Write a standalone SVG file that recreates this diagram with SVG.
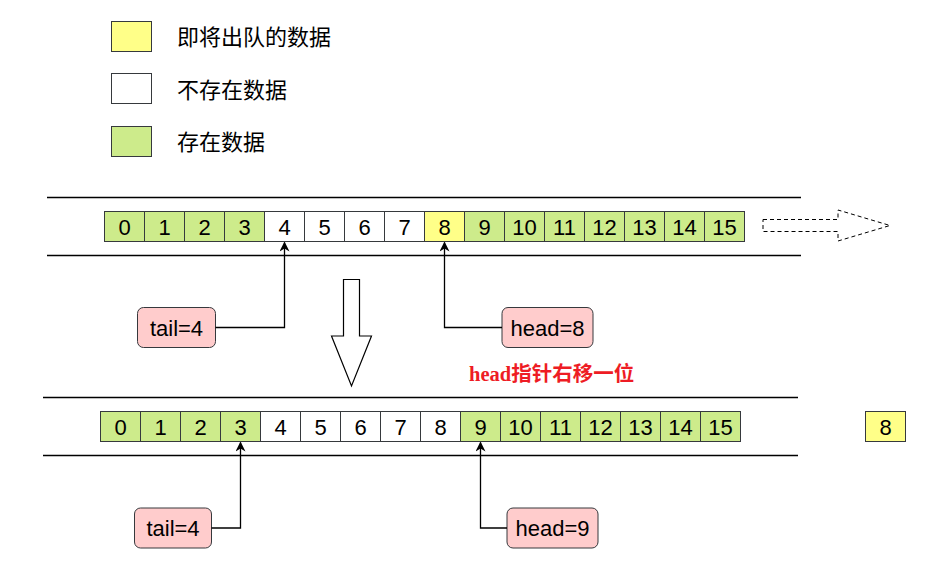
<svg xmlns="http://www.w3.org/2000/svg" width="938" height="587" viewBox="0 0 938 587">
<defs>
<style>
.g{fill:#cdeb8b;stroke:#36393d;stroke-width:1}
.w{fill:#ffffff;stroke:#36393d;stroke-width:1}
.y{fill:#ffff88;stroke:#36393d;stroke-width:1}
.t{font-family:"Liberation Sans",Arial,sans-serif;font-size:22px;fill:#000;text-anchor:middle}
.lg{font-family:"Noto Sans CJK SC","Liberation Sans",sans-serif;font-size:22px;fill:#000}
.box{fill:#ffcccc;stroke:#36393d;stroke-width:1}
.rail{stroke:#000;stroke-width:1.3}
.conn{stroke:#000;stroke-width:1.3;fill:none}
</style>
<marker id="ah" viewBox="0 0 10 10" refX="9" refY="5" markerWidth="10" markerHeight="10" markerUnits="userSpaceOnUse" orient="auto">
<path d="M0,0 L10,5 L0,10 L3,5 Z" fill="#000"/>
</marker>
</defs>
<rect width="938" height="587" fill="#fff"/>
<g id="legend">
<rect class="y" x="111.5" y="21.5" width="40" height="30"/>
<text class="lg" x="177" y="44.5">即将出队的数据</text>
<rect class="w" x="111.5" y="73.5" width="40" height="30"/>
<text class="lg" x="177" y="97.5">不存在数据</text>
<rect class="g" x="111.5" y="126.5" width="40" height="30"/>
<text class="lg" x="177" y="149.5">存在数据</text>
</g>
<g id="rails">
<line class="rail" x1="47" y1="197.5" x2="801" y2="197.5" stroke="#333"/>
<line class="rail" x1="47" y1="255.5" x2="801" y2="255.5"/>
<line class="rail" x1="43" y1="397.5" x2="798" y2="397.5"/>
<line class="rail" x1="43" y1="455.5" x2="798" y2="455.5" stroke="#333"/>
</g>
<g id="array-top">
<rect class="g" x="104.5" y="211.5" width="40" height="30"/><text class="t" x="124.5" y="234.5">0</text>
<rect class="g" x="144.5" y="211.5" width="40" height="30"/><text class="t" x="164.5" y="234.5">1</text>
<rect class="g" x="184.5" y="211.5" width="40" height="30"/><text class="t" x="204.5" y="234.5">2</text>
<rect class="g" x="224.5" y="211.5" width="40" height="30"/><text class="t" x="244.5" y="234.5">3</text>
<rect class="w" x="264.5" y="211.5" width="40" height="30"/><text class="t" x="284.5" y="234.5">4</text>
<rect class="w" x="304.5" y="211.5" width="40" height="30"/><text class="t" x="324.5" y="234.5">5</text>
<rect class="w" x="344.5" y="211.5" width="40" height="30"/><text class="t" x="364.5" y="234.5">6</text>
<rect class="w" x="384.5" y="211.5" width="40" height="30"/><text class="t" x="404.5" y="234.5">7</text>
<rect class="y" x="424.5" y="211.5" width="40" height="30"/><text class="t" x="444.5" y="234.5">8</text>
<rect class="g" x="464.5" y="211.5" width="40" height="30"/><text class="t" x="484.5" y="234.5">9</text>
<rect class="g" x="504.5" y="211.5" width="40" height="30"/><text class="t" x="524.5" y="234.5">10</text>
<rect class="g" x="544.5" y="211.5" width="40" height="30"/><text class="t" x="564.5" y="234.5">11</text>
<rect class="g" x="584.5" y="211.5" width="40" height="30"/><text class="t" x="604.5" y="234.5">12</text>
<rect class="g" x="624.5" y="211.5" width="40" height="30"/><text class="t" x="644.5" y="234.5">13</text>
<rect class="g" x="664.5" y="211.5" width="40" height="30"/><text class="t" x="684.5" y="234.5">14</text>
<rect class="g" x="704.5" y="211.5" width="40" height="30"/><text class="t" x="724.5" y="234.5">15</text>
</g>
<g id="dashed-arrow">
<path d="M763,219.5 L838,219.5 L838,210 L890,225.5 L838,241 L838,231.5 L763,231.5 Z" fill="none" stroke="#000" stroke-width="1" stroke-dasharray="4 3"/>
</g>
<g id="tail-top">
<rect class="box" x="137.5" y="307.5" width="78" height="40" rx="6"/>
<text class="t" x="176.5" y="335.5">tail=4</text>
</g>
<g id="head-top">
<rect class="box" x="502" y="307.5" width="91" height="40" rx="6"/>
<text class="t" x="547.5" y="335.5">head=8</text>
</g>
<g id="down-arrow">
<path d="M343.5,279.5 L359.5,279.5 L359.5,336 L371.5,336 L351.5,386 L331.5,336 L343.5,336 Z" fill="#fff" stroke="#000" stroke-width="1.2"/>
</g>
<g id="note">
<text x="469" y="381" font-family="'Liberation Serif','Noto Sans CJK SC',serif" font-weight="bold" font-size="20.5px" fill="#ee1c24">head指针右移一位</text>
</g>
<g id="array-bottom">
<rect class="g" x="100.5" y="411.5" width="40" height="30"/><text class="t" x="120.5" y="434.5">0</text>
<rect class="g" x="140.5" y="411.5" width="40" height="30"/><text class="t" x="160.5" y="434.5">1</text>
<rect class="g" x="180.5" y="411.5" width="40" height="30"/><text class="t" x="200.5" y="434.5">2</text>
<rect class="g" x="220.5" y="411.5" width="40" height="30"/><text class="t" x="240.5" y="434.5">3</text>
<rect class="w" x="260.5" y="411.5" width="40" height="30"/><text class="t" x="280.5" y="434.5">4</text>
<rect class="w" x="300.5" y="411.5" width="40" height="30"/><text class="t" x="320.5" y="434.5">5</text>
<rect class="w" x="340.5" y="411.5" width="40" height="30"/><text class="t" x="360.5" y="434.5">6</text>
<rect class="w" x="380.5" y="411.5" width="40" height="30"/><text class="t" x="400.5" y="434.5">7</text>
<rect class="w" x="420.5" y="411.5" width="40" height="30"/><text class="t" x="440.5" y="434.5">8</text>
<rect class="g" x="460.5" y="411.5" width="40" height="30"/><text class="t" x="480.5" y="434.5">9</text>
<rect class="g" x="500.5" y="411.5" width="40" height="30"/><text class="t" x="520.5" y="434.5">10</text>
<rect class="g" x="540.5" y="411.5" width="40" height="30"/><text class="t" x="560.5" y="434.5">11</text>
<rect class="g" x="580.5" y="411.5" width="40" height="30"/><text class="t" x="600.5" y="434.5">12</text>
<rect class="g" x="620.5" y="411.5" width="40" height="30"/><text class="t" x="640.5" y="434.5">13</text>
<rect class="g" x="660.5" y="411.5" width="40" height="30"/><text class="t" x="680.5" y="434.5">14</text>
<rect class="g" x="700.5" y="411.5" width="40" height="30"/><text class="t" x="720.5" y="434.5">15</text>
</g>
<g id="dequeued">
<rect class="y" x="865.5" y="411.5" width="40" height="30"/><text class="t" x="885.5" y="434.5">8</text>
</g>
<g id="tail-bottom">
<rect class="box" x="134.5" y="508" width="77" height="40" rx="6"/>
<text class="t" x="173" y="536">tail=4</text>
</g>
<g id="head-bottom">
<rect class="box" x="507" y="508" width="91" height="40" rx="6"/>
<text class="t" x="552.5" y="536">head=9</text>
</g>
<g id="connectors">
<path class="conn" d="M215.5,327.5 L284.5,327.5 L284.5,242.5" marker-end="url(#ah)"/>
<path class="conn" d="M502,327.5 L444.5,327.5 L444.5,242.5" marker-end="url(#ah)"/>
<path class="conn" d="M211.5,528 L240.5,528 L240.5,442.5" marker-end="url(#ah)"/>
<path class="conn" d="M507,528 L480.5,528 L480.5,442.5" marker-end="url(#ah)"/>
</g>
</svg>
